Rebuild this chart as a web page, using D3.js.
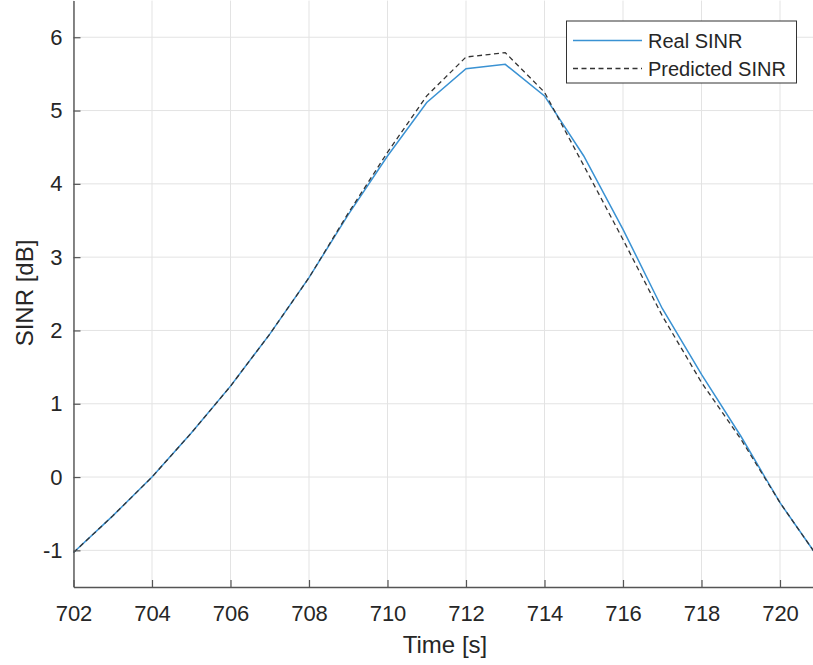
<!DOCTYPE html>
<html>
<head>
<meta charset="utf-8">
<script src="https://cdn.jsdelivr.net/npm/d3@7"></script>
<style>
  body { margin: 0; background: #fff; }
  svg { display: block; font-family: "Liberation Sans", Arial, sans-serif; }
</style>
</head>
<body>
<div id="chart"></div>
<script>
// time samples (s) and SINR values (dB)
var times = [702, 703, 704, 705, 706, 707, 708, 709, 710, 711, 712, 713, 714, 715, 716, 717, 718, 719, 720, 721];
var realSinr = [-1.03, -0.53, 0.0, 0.6, 1.24, 1.95, 2.72, 3.58, 4.38, 5.11, 5.57, 5.63, 5.2, 4.38, 3.38, 2.3, 1.4, 0.56, -0.35, -1.12];
var predSinr = [-1.03, -0.53, 0.0, 0.6, 1.24, 1.95, 2.72, 3.6, 4.43, 5.2, 5.73, 5.79, 5.25, 4.25, 3.24, 2.2, 1.29, 0.52, -0.35, -1.12];
var xTicks = [702, 704, 706, 708, 710, 712, 714, 716, 718, 720];
var yTicks = [-1, 0, 1, 2, 3, 4, 5, 6];
var seriesNames = ["Real SINR", "Predicted SINR"];

var width = 813, height = 665;
var left = 73.5, bottom = 587;

var svg = d3.select("#chart")
    .append("svg")
    .attr("width", width)
    .attr("height", height);

// scales: 2 s = 78.5 px, 1 dB = 73.3 px
var x = d3.scaleLinear().domain([702, 721]).range([left, left + 19 * 39.25]);
var y = d3.scaleLinear().domain([-1.5, 6.5]).range([bottom, bottom - 8 * 73.3]);

// grid
var grid = svg.append("g");
grid.selectAll(".gx").data(xTicks).enter().append("line")
    .attr("x1", d => x(d)).attr("x2", d => x(d))
    .attr("y1", y(-1.5)).attr("y2", y(6.5))
    .style("stroke", "#e3e3e3").style("stroke-width", 1);
grid.selectAll(".gy").data(yTicks).enter().append("line")
    .attr("x1", x(702)).attr("x2", x(721))
    .attr("y1", d => y(d)).attr("y2", d => y(d))
    .style("stroke", "#e3e3e3").style("stroke-width", 1);

// lines
var line = d3.line().x((d, i) => x(times[i])).y(d => y(d));

svg.append("path")
    .datum(realSinr)
    .attr("d", line)
    .style("fill", "none")
    .style("stroke", "#3a92d3")
    .style("stroke-width", 1.5);

svg.append("path")
    .datum(predSinr)
    .attr("d", line)
    .style("fill", "none")
    .style("stroke", "#333")
    .style("stroke-width", 1.3)
    .style("stroke-dasharray", "5,3.5");

// axes
var xAxis = d3.axisBottom(x).tickValues(xTicks).tickSizeInner(-7).tickSizeOuter(0).tickPadding(18);
var yAxis = d3.axisLeft(y).tickValues(yTicks).tickSizeInner(-7).tickSizeOuter(0).tickPadding(11)
    .tickFormat(d3.format("d"));

var gx = svg.append("g").attr("transform", "translate(0," + bottom + ")").call(xAxis);
var gy = svg.append("g").attr("transform", "translate(" + left + ",0)").call(yAxis);

[gx, gy].forEach(function (g) {
    g.select(".domain").style("stroke", "#555").style("stroke-width", 1.4);
    g.selectAll(".tick line").style("stroke", "#555").style("stroke-width", 1.2);
    g.selectAll(".tick text").style("fill", "#262626").style("font-size", "22px")
        .style("font-family", "Liberation Sans, Arial, sans-serif");
});
gy.selectAll(".tick text").text(d => d < 0 ? "-" + Math.abs(d) : d);

// axis labels
svg.append("text")
    .text("Time [s]")
    .attr("x", 445).attr("y", 653)
    .attr("text-anchor", "middle")
    .style("font-size", "24px").style("fill", "#262626");

svg.append("text")
    .text("SINR [dB]")
    .attr("transform", "translate(33,293) rotate(-90)")
    .attr("text-anchor", "middle")
    .style("font-size", "24px").style("fill", "#262626");

// legend
var legend = svg.append("g");
legend.append("rect")
    .attr("x", 566.5).attr("y", 21)
    .attr("width", 230).attr("height", 62)
    .style("fill", "#fff").style("stroke", "#333").style("stroke-width", 1);

var rows = [{ color: "#3a92d3", dash: null, w: 1.5 }, { color: "#333", dash: "5,3.5", w: 1.3 }];
rows.forEach(function (r, i) {
    var ly = 40.5 + i * 28;
    legend.append("line")
        .attr("x1", 573).attr("x2", 642)
        .attr("y1", ly).attr("y2", ly)
        .style("stroke", r.color).style("stroke-width", r.w)
        .style("stroke-dasharray", r.dash);
    legend.append("text")
        .text(seriesNames[i])
        .attr("x", 648).attr("y", ly + 7)
        .style("font-size", "20px").style("fill", "#262626");
});
</script>
</body>
</html>
